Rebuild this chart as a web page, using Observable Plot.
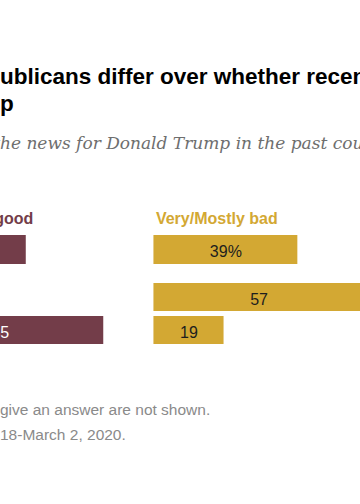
<!DOCTYPE html>
<html>
<head>
<meta charset="utf-8">
<script src="https://cdn.jsdelivr.net/npm/d3@7"></script>
<script src="https://cdn.jsdelivr.net/npm/@observablehq/plot@0.6"></script>
<style>
  html, body { margin: 0; padding: 0; background: #fff; }
  body { width: 360px; height: 504px; overflow: hidden; position: relative; }
  .line { position: absolute; white-space: nowrap; left: 0; }
  .title { font: bold 22.5px "Liberation Sans", Arial, sans-serif; line-height: 22px; color: #000; }
  .subtitle { font: italic 17px "DejaVu Serif", Georgia, serif; line-height: 20px; color: #6e6e6e; }
  .note { font: 15.5px "Liberation Sans", Arial, sans-serif; line-height: 18px; color: #8a8a8a; }
  .chart { position: absolute; left: -230px; width: 700px; }
  .chart svg { display: block; overflow: visible; max-width: none !important; height: auto; }
</style>
</head>
<body>
<div class="line title" style="top:66px"><span class="cut">Democrats and Rep</span>ublicans differ over whether recent news has</div>
<div class="line title" style="top:93px"><span class="cut">been good for Trum</span>p</div>
<div class="line subtitle" style="top:133px"><span class="cut">% who say t</span>he news for Donald Trump in the past couple of weeks has been …</div>
<div id="c1" class="chart" style="top:200px"></div>
<div id="c2" class="chart" style="top:264px"></div>
<div class="line note" style="top:401px"><span class="cut">Note: Respondents who did not </span>give an answer are not shown.</div>
<div class="line note" style="top:426px"><span class="cut">Source: Survey conducted Feb. </span>18-March 2, 2020.</div>
<script>
// ---- data ----
const groups = ["Total", "Dem/Lean Dem", "Rep/Lean Rep"];
const goodValues = [34, 14, 55];
const badValues = [39, 57, 19];
const columns = ["Very/Mostly good", "Very/Mostly bad"];

// ---- style / layout ----
const MAROON = "#733d49";
const GOLD = "#d3a833";
const K = 3.69;          // px per percentage point
const BAD_START = 68.6;  // start of the "bad" column, in points
const X_MAX = 130;
const ML = 130.3;
const W = ML + X_MAX * K;

const rows = groups.map((g, i) => ({
  group: g,
  good: goodValues[i],
  bad: badValues[i],
  suffix: i === 0 ? "%" : ""
}));

function chart(data, {height, marginTop, paddingInner, headers}) {
  const segs = data.flatMap(d => [
    {group: d.group, col: "good", start: 0, value: d.good, text: d.good + d.suffix},
    {group: d.group, col: "bad", start: BAD_START, value: d.bad, text: d.bad + d.suffix}
  ]);
  const good = segs.filter(d => d.col === "good");
  const bad = segs.filter(d => d.col === "bad");
  const heads = columns.map((c, i) => ({text: c, start: i === 0 ? 0 : BAD_START}));
  return Plot.plot({
    width: W,
    height,
    marginLeft: ML,
    marginRight: 0,
    marginTop,
    marginBottom: 0,
    x: {domain: [0, X_MAX], axis: null},
    y: {domain: data.map(d => d.group), paddingInner, paddingOuter: 0, axis: null},
    style: {fontFamily: "'Liberation Sans', Arial, sans-serif", overflow: "visible", maxWidth: "none"},
    marks: [
      Plot.barX(good, {x1: "start", x2: d => d.start + d.value, y: "group", fill: MAROON}),
      Plot.barX(bad, {x1: "start", x2: d => d.start + d.value, y: "group", fill: GOLD}),
      Plot.text(good, {x: d => d.start + d.value / 2, y: "group", text: "text", fill: "white", fontSize: 16, dy: 2, dx: -2}),
      Plot.text(bad, {x: d => d.start + d.value / 2, y: "group", text: "text", fill: "#1e1e1e", fontSize: 16, dy: 2}),
      Plot.text(data, {x: 0, y: "group", text: "group", textAnchor: "end", dx: -10, fill: "#333", fontSize: 15}),
      headers ? Plot.text(heads.slice(0, 1), {x: "start", text: "text", frameAnchor: "top", lineAnchor: "bottom", textAnchor: "start", dy: -11.5, fill: MAROON, fontWeight: "bold", fontSize: 16}) : null,
      headers ? Plot.text(heads.slice(1), {x: "start", text: "text", frameAnchor: "top", lineAnchor: "bottom", textAnchor: "start", dy: -11.5, dx: 2, fill: GOLD, fontWeight: "bold", fontSize: 16}) : null
    ]
  });
}

const s1 = chart(rows.slice(0, 1), {height: 64, marginTop: 35, paddingInner: 0, headers: true});
const s2 = chart(rows.slice(1), {height: 81, marginTop: 18.3, paddingInner: 0.154, headers: false});
[s1, s2].forEach(s => { s.style.maxWidth = "none"; s.style.width = W + "px"; });
document.getElementById("c1").append(s1);
document.getElementById("c2").append(s2);

function placeLines() {
  document.querySelectorAll(".line").forEach(el => {
    const cut = el.querySelector(".cut");
    el.style.left = (-cut.getBoundingClientRect().width) + "px";
  });
}
placeLines();
if (document.fonts && document.fonts.ready) document.fonts.ready.then(placeLines);
</script>
</body>
</html>
